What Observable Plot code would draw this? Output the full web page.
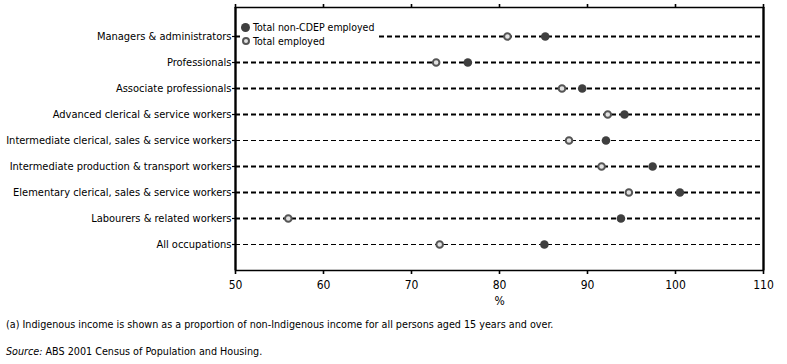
<!DOCTYPE html>
<html>
<head>
<meta charset="utf-8">
<script src="https://cdn.jsdelivr.net/npm/d3@7"></script>
<script src="https://cdn.jsdelivr.net/npm/@observablehq/plot@0.6"></script>
<style>
  html, body { margin: 0; padding: 0; background: #fff; }
  body { width: 787px; height: 364px; overflow: hidden; font-family: "Liberation Sans Narrow", "DejaVu Sans Condensed", "Liberation Sans", sans-serif; color: #000; }
  #wrap { position: relative; width: 787px; }
  #chart svg { display: block; }
  .legend { position: absolute; left: 241px; top: 20px; font-size: 10.5px; line-height: 14px; background: #fff; padding: 0 2px 0 0; }
  .legend div { display: flex; align-items: center; height: 14px; }
  .sw { display: inline-block; box-sizing: border-box; border-radius: 50%; margin-right: 3px; }
  .sw.filled { width: 9px; height: 9px; background: #3f3f3f; }
  .sw.hollow { width: 8px; height: 8px; background: #e2e2e2; border: 2px solid #555; margin-left: 0.5px; margin-right: 3.5px; }
  .note { position: absolute; left: 6px; font-size: 10.7px; white-space: nowrap; }
</style>
</head>
<body>
<div id="wrap">
  <div id="chart"></div>
  <div class="legend">
    <div><span class="sw filled"></span><span>Total non-CDEP employed</span></div>
    <div><span class="sw hollow"></span><span>Total employed</span></div>
  </div>
  <div class="note" style="top:318px">(a) Indigenous income is shown as a proportion of non-Indigenous income for all persons aged 15 years and over.</div>
  <div class="note" style="top:345px"><i>Source:</i> ABS 2001 Census of Population and Housing.</div>
</div>
<script>
const categories = [
  "Managers & administrators",
  "Professionals",
  "Associate professionals",
  "Advanced clerical & service workers",
  "Intermediate clerical, sales & service workers",
  "Intermediate production & transport workers",
  "Elementary clerical, sales & service workers",
  "Labourers & related workers",
  "All occupations"
];
const totalNonCdep = [85.2, 76.4, 89.4, 94.2, 92.1, 97.4, 100.5, 93.8, 85.1];
const totalEmployed = [80.9, 72.8, 87.1, 92.3, 87.9, 91.6, 94.7, 56.0, 73.2];
const xTicks = [50, 60, 70, 80, 90, 100, 110];

const thinRows = new Set(["Intermediate clerical, sales & service workers", "All occupations"]);

const nonCdepData = categories.map((c, i) => ({category: c, value: totalNonCdep[i]}));
const employedData = categories.map((c, i) => ({category: c, value: totalEmployed[i]}));

const H = 308;
const chart = Plot.plot({
  width: 787,
  height: H,
  marginLeft: 235,
  marginRight: 24,
  marginTop: 7,
  marginBottom: H - 270,
  style: {fontFamily: '"Liberation Sans Narrow", "DejaVu Sans Condensed", "Liberation Sans", sans-serif', fontSize: "11px", color: "#000", background: "#fff"},
  x: {domain: [50, 110]},
  y: {type: "point", domain: categories, range: [36, 244], padding: 0},
  marks: [
    Plot.ruleY(categories.filter(c => !thinRows.has(c)), {x1: 50, x2: 110, stroke: "#000", strokeWidth: 2, strokeDasharray: "5,3"}),
    Plot.ruleY(categories.filter(c => thinRows.has(c)), {x1: 50, x2: 110, stroke: "#000", strokeWidth: 1, strokeDasharray: "5,3"}),
    Plot.frame({stroke: "#000", strokeWidth: 1.5}),
    Plot.ruleX([50, 110], {stroke: "#000", strokeWidth: 2.2}),
    Plot.axisX({anchor: "bottom", ticks: xTicks, tickSize: 4, tickPadding: 6, strokeWidth: 1.6, fontSize: 12, label: "%", labelAnchor: "center", labelArrow: "none", labelOffset: 34}),
    Plot.axisX({anchor: "top", ticks: xTicks, tickSize: 4, strokeWidth: 1.6, tickFormat: () => "", label: null}),
    Plot.axisY({tickSize: 3, tickPadding: 1, strokeWidth: 1.2, label: null}),
    Plot.dot(employedData, {x: "value", y: "category", r: 3.3, fill: "#e2e2e2", stroke: "#555", strokeWidth: 2}),
    Plot.dot(nonCdepData, {x: "value", y: "category", r: 4.3, fill: "#3f3f3f", stroke: "none"})
  ]
});
document.getElementById("chart").appendChild(chart);
</script>
</body>
</html>
